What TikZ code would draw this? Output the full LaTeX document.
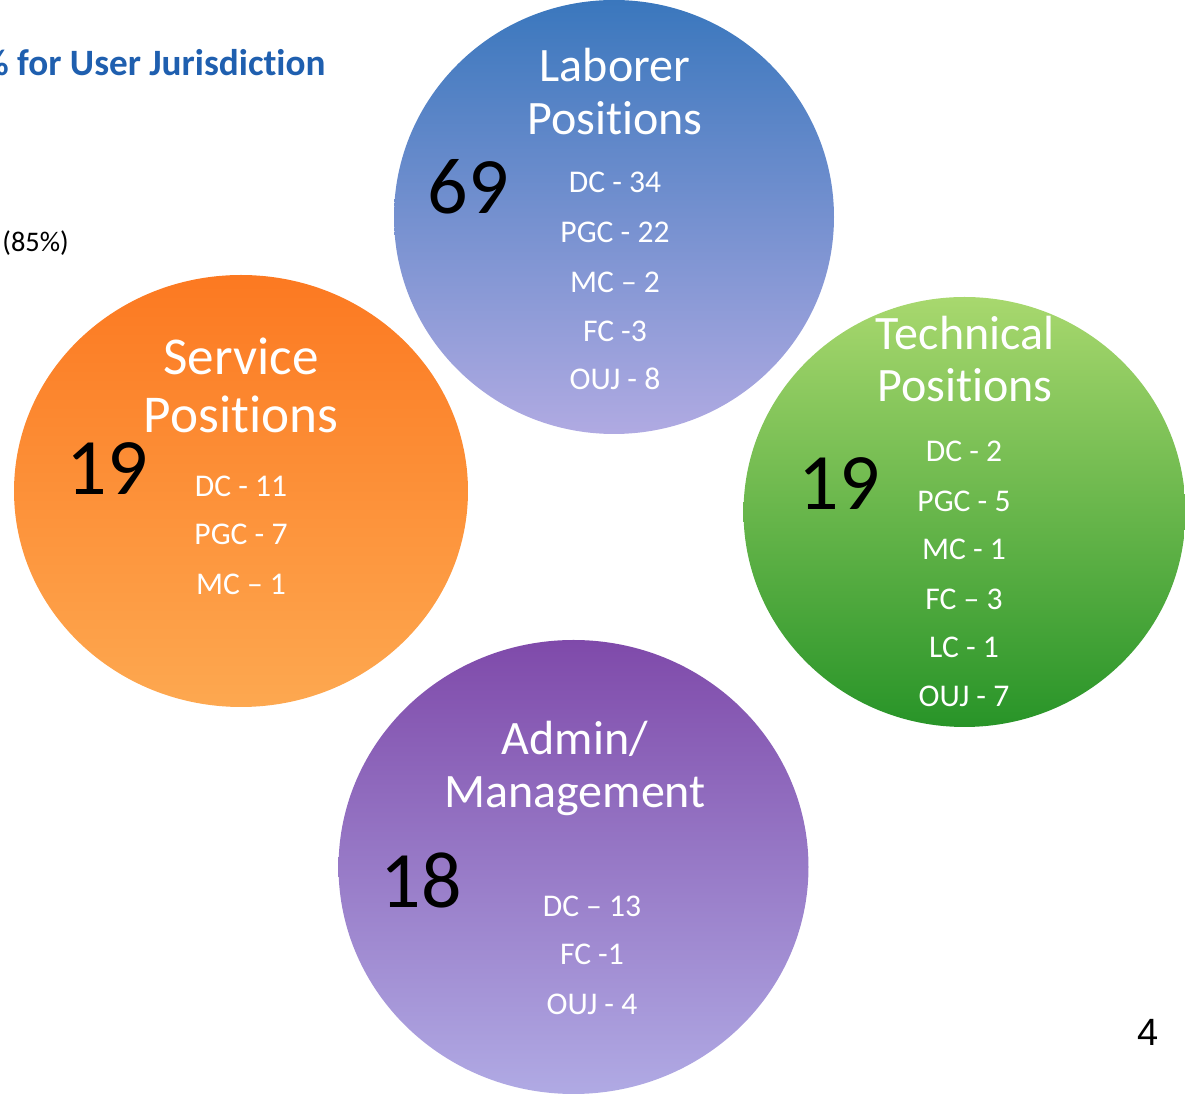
\documentclass[tikz,border=0pt]{standalone}
\usepackage{fontspec}
\setmainfont[Ligatures={TeX,NoCommon}]{Carlito}
\newfontfamily\pagenumfont{Liberation Sans}
\definecolor{labtop}{RGB}{58,119,189}
\definecolor{labbot}{RGB}{176,170,226}
\definecolor{sertop}{RGB}{252,121,33}
\definecolor{serbot}{RGB}{253,168,80}
\definecolor{tectop}{RGB}{168,216,110}
\definecolor{tecbot}{RGB}{40,148,40}
\definecolor{admtop}{RGB}{127,74,170}
\definecolor{admbot}{RGB}{176,170,228}
\definecolor{headblue}{RGB}{31,95,175}
\tikzset{
	headline/.style={anchor=base,inner sep=0pt,text=white,font=\fontsize{24}{29}\selectfont},
	bignum/.style={anchor=base,inner sep=0pt,text=black,font=\fontsize{40}{48}\selectfont},
	entry/.style={anchor=base,inner sep=0pt,text=white,font=\fontsize{15.8}{19}\selectfont}
}

\begin{document}
\begin{tikzpicture}[x=0.5pt,y=-0.5pt]
	\useasboundingbox (0,0) rectangle (1185,1095);
	%CIRCLES
	\shade[top color=labtop,bottom color=labbot] (614,217) ellipse [x radius=110pt,y radius=108.5pt];	%laborer (blue)
	\shade[top color=sertop,bottom color=serbot] (241,491) ellipse [x radius=113.5pt,y radius=108pt];	%service (orange)
	\shade[top color=tectop,bottom color=tecbot] (964.5,512) ellipse [x radius=110.5pt,y radius=107.5pt];	%technical (green)
	\shade[top color=admtop,bottom color=admbot] (573.5,867) ellipse [x radius=117.5pt,y radius=113.5pt];	%admin (purple)
	
	%HEADER
	\node[anchor=base east,inner sep=0pt,text=headblue,font=\fontsize{18.6}{23}\selectfont\bfseries] (head) at (326,76) {\% for User Jurisdiction};
	\node[anchor=base west,inner sep=0pt,font=\fontsize{14.2}{17}\selectfont] (share) at (2,252) {(85\%)};
	
	%LABORER
	\node[headline] (lab1) at (615,82)  {Laborer};
	\node[headline] (lab2) at (615,135) {Positions};
	\node[bignum]   (labn) at (468,214) {69};
	\node[entry] (lab-dc)  at (615,193) {DC - 34};
	\node[entry] (lab-pgc) at (615,243) {PGC - 22};
	\node[entry] (lab-mc)  at (615,293) {MC – 2};
	\node[entry] (lab-fc)  at (615,342) {FC -3};
	\node[entry] (lab-ouj) at (615,390) {OUJ - 8};
	
	%SERVICE
	\node[headline,font=\fontsize{26.6}{32}\selectfont] (ser1) at (241,375) {Service};
	\node[headline,font=\fontsize{26.6}{32}\selectfont] (ser2) at (241,433) {Positions};
	\node[bignum]   (sern) at (107,495) {19};
	\node[entry] (ser-dc)  at (241,497) {DC - 11};
	\node[entry] (ser-pgc) at (241,545) {PGC - 7};
	\node[entry] (ser-mc)  at (241,595) {MC – 1};
	
	%TECHNICAL
	\node[headline] (tec1) at (965,350) {Technical};
	\node[headline] (tec2) at (965,402) {Positions};
	\node[bignum]   (tecn) at (839,510) {19};
	\node[entry] (tec-dc)  at (964,462) {DC - 2};
	\node[entry] (tec-pgc) at (964,512) {PGC - 5};
	\node[entry] (tec-mc)  at (964,560) {MC - 1};
	\node[entry] (tec-fc)  at (964,610) {FC – 3};
	\node[entry] (tec-lc)  at (964,658) {LC - 1};
	\node[entry] (tec-ouj) at (964,707) {OUJ - 7};
	
	%ADMIN
	\node[headline] (adm1) at (575,755) {Admin/};
	\node[headline] (adm2) at (575,808) {Management};
	\node[bignum]   (admn) at (421,908) {18};
	\node[entry] (adm-dc)  at (592,917)  {DC – 13};
	\node[entry] (adm-fc)  at (592,965)  {FC -1};
	\node[entry] (adm-ouj) at (592,1015) {OUJ - 4};
	
	%PAGE NUMBER
	\node[anchor=base,inner sep=0pt,font=\pagenumfont\fontsize{19}{23}\selectfont] (pagenum) at (1148,1046) {4};
\end{tikzpicture}
\end{document}
